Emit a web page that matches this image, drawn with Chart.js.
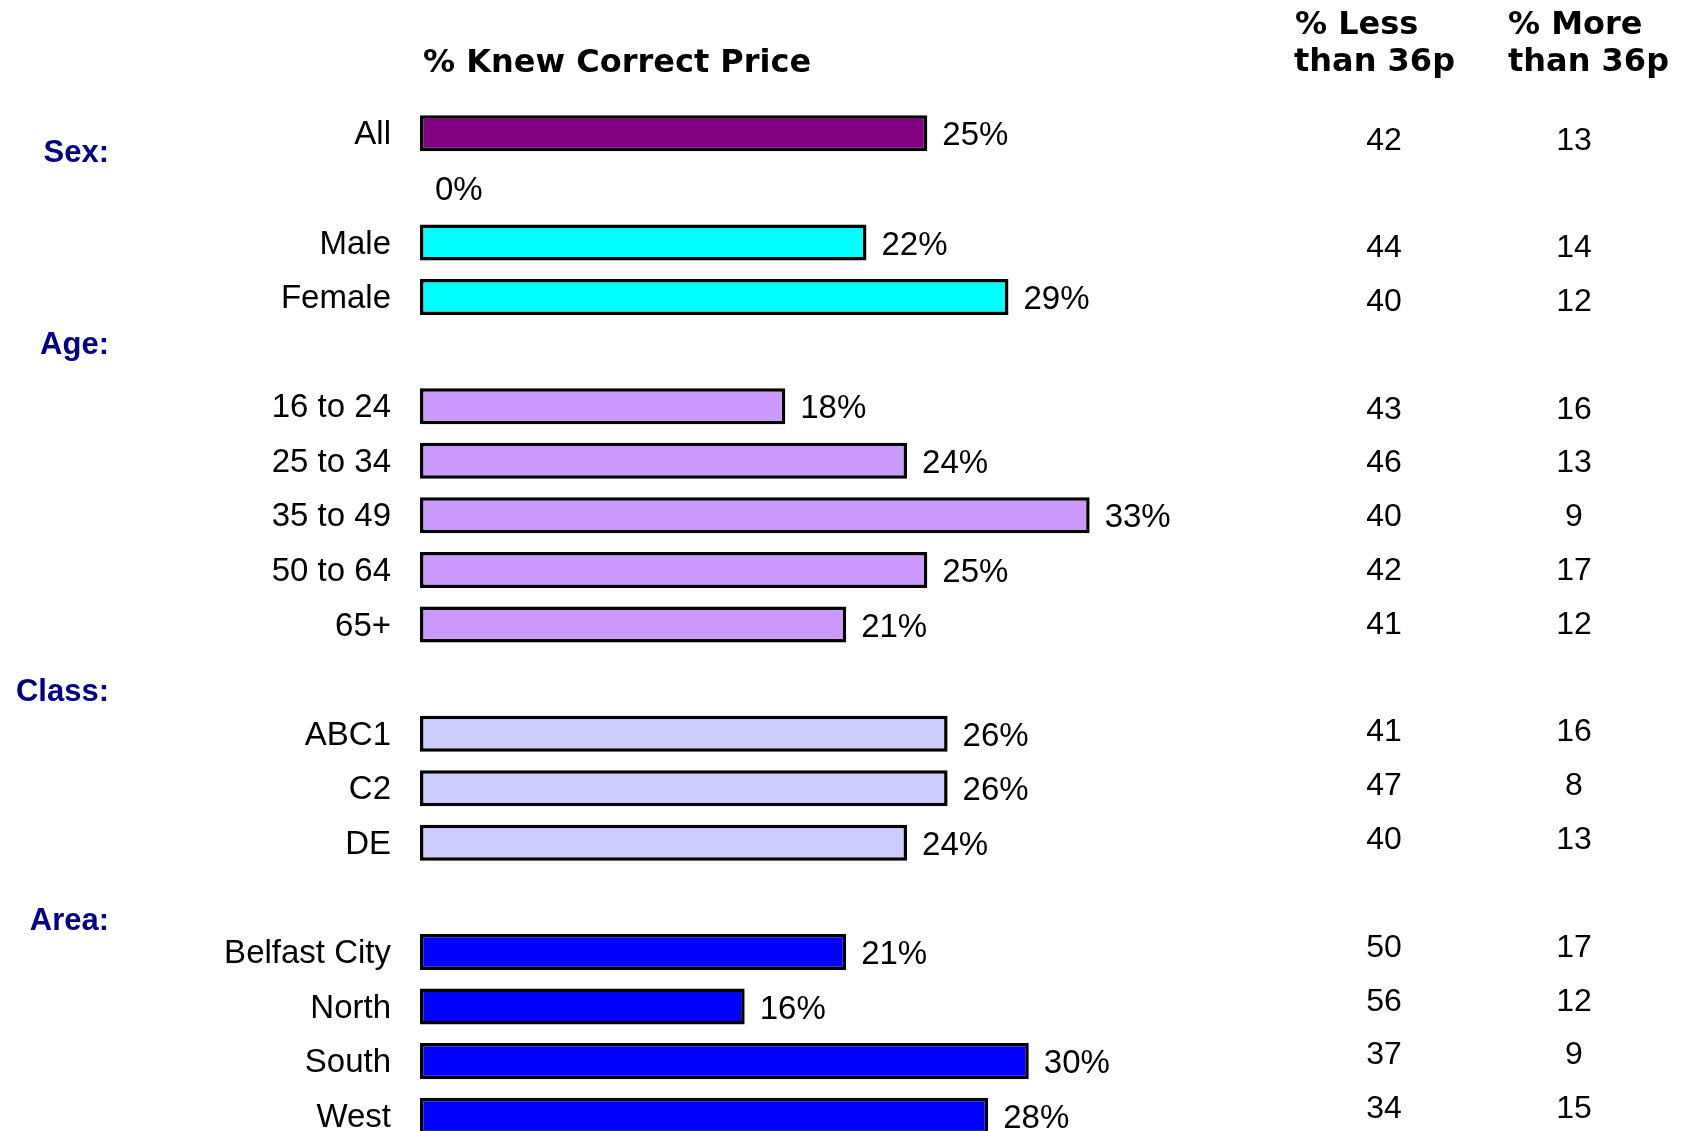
<!DOCTYPE html>
<html>
<head>
<meta charset="utf-8">
<script src="https://cdn.jsdelivr.net/npm/chart.js@4/dist/chart.umd.min.js"></script>
<style>
  html, body { margin: 0; padding: 0; background: #fff; overflow: hidden; }
  #wrap { width: 1681px; height: 1131px; overflow: hidden; position: relative; }
  #chart { position: absolute; left: 0; top: 0; }
</style>
</head>
<body>
<div id="wrap"><canvas id="chart" width="1681" height="1150"></canvas></div>
<script>
// rows of the chart (blank entries are the spacer rows between groups)
const categories = ['All', '', 'Male', 'Female', '', '16 to 24', '25 to 34', '35 to 49', '50 to 64', '65+', '',
  'ABC1', 'C2', 'DE', '', 'Belfast City', 'North', 'South', 'West'];
const knewCorrect = [25, 0, 22, 29, null, 18, 24, 33, 25, 21, null, 26, 26, 24, null, 21, 16, 30, 28];
const lessThan36p = [42, null, 44, 40, null, 43, 46, 40, 42, 41, null, 41, 47, 40, null, 50, 56, 37, 34];
const moreThan36p = [13, null, 14, 12, null, 16, 13, 9, 17, 12, null, 16, 8, 13, null, 17, 12, 9, 15];
const barColors = ['#800080', '#ffffff', '#00ffff', '#00ffff', '#ffffff', '#cc99ff', '#cc99ff', '#cc99ff', '#cc99ff', '#cc99ff', '#ffffff',
  '#ccccff', '#ccccff', '#ccccff', '#ffffff', '#0000ff', '#0000ff', '#0000ff', '#0000ff'];
// group headings and the row they sit next to
const groupNames = ['Sex:', 'Age:', 'Class:', 'Area:'];
const groupRows = [0.33, 3.85, 10.2, 14.4];

// the side table is laid out a touch tighter than the bars
const tableStep = 0.986;
const tableShift = 0.117;

const LABEL_FONT = '33px "Liberation Sans", Arial, sans-serif';
const HEAD_FONT = 'bold 32px "DejaVu Sans", Verdana, sans-serif';

const extras = {
  id: 'extras',
  afterDatasetsDraw(chart) {
    const ctx = chart.ctx;
    const meta = chart.getDatasetMeta(0);
    const yScale = chart.scales.y;
    ctx.save();

    // value labels at the bar ends
    ctx.fillStyle = '#000';
    ctx.font = LABEL_FONT;
    ctx.textAlign = 'left';
    ctx.textBaseline = 'middle';
    knewCorrect.forEach((v, i) => {
      if (v === null) return;
      const bar = meta.data[i];
      ctx.fillText(v + '%', bar.x + 15, bar.y + 3);
    });

    // the two table columns
    ctx.font = '32px "Liberation Sans", Arial, sans-serif';
    ctx.textAlign = 'center';
    const rowY = i => yScale.getPixelForValue(i * tableStep + tableShift) + 1;
    lessThan36p.forEach((v, i) => {
      if (v === null) return;
      ctx.fillText(String(v), 1384, rowY(i));
    });
    moreThan36p.forEach((v, i) => {
      if (v === null) return;
      ctx.fillText(String(v), 1574, rowY(i));
    });

    // group headings
    ctx.fillStyle = '#000080';
    ctx.font = 'bold 31px "Liberation Sans", Arial, sans-serif';
    ctx.textAlign = 'right';
    groupNames.forEach((g, k) => {
      ctx.fillText(g, 109, yScale.getPixelForValue(groupRows[k]) + 2);
    });

    // titles
    ctx.fillStyle = '#000';
    ctx.font = HEAD_FONT;
    ctx.textAlign = 'left';
    ctx.fillText('% Knew Correct Price', chart.chartArea.left + 3, 64);
    ctx.fillText('% Less', 1295, 26);
    ctx.fillText('than 36p', 1294, 63);
    ctx.fillText('% More', 1508, 26);
    ctx.fillText('than 36p', 1508, 63);
    ctx.restore();
  }
};

new Chart(document.getElementById('chart'), {
  type: 'bar',
  data: {
    labels: categories,
    datasets: [{
      data: knewCorrect,
      backgroundColor: barColors,
      borderColor: '#000',
      borderWidth: 3.5,
      borderSkipped: false,
      barPercentage: 0.66,
      categoryPercentage: 1
    }]
  },
  options: {
    indexAxis: 'y',
    responsive: false,
    animation: false,
    layout: { padding: { top: 106, bottom: 7, left: 0, right: 429 } },
    plugins: { legend: { display: false }, tooltip: { enabled: false } },
    scales: {
      x: { display: false, min: 0, max: 41 },
      y: {
        position: 'left',
        grid: { display: false, drawTicks: false },
        border: { display: false },
        ticks: {
          color: '#000',
          font: { family: '"Liberation Sans", Arial, sans-serif', size: 33 },
          padding: 29,
          labelOffset: 2,
          autoSkip: false
        },
        afterFit(scale) {
          scale.width = 420;
          scale.paddingTop = 0;
          scale.paddingBottom = 0;
        }
      }
    }
  },
  plugins: [extras]
});
</script>
</body>
</html>
